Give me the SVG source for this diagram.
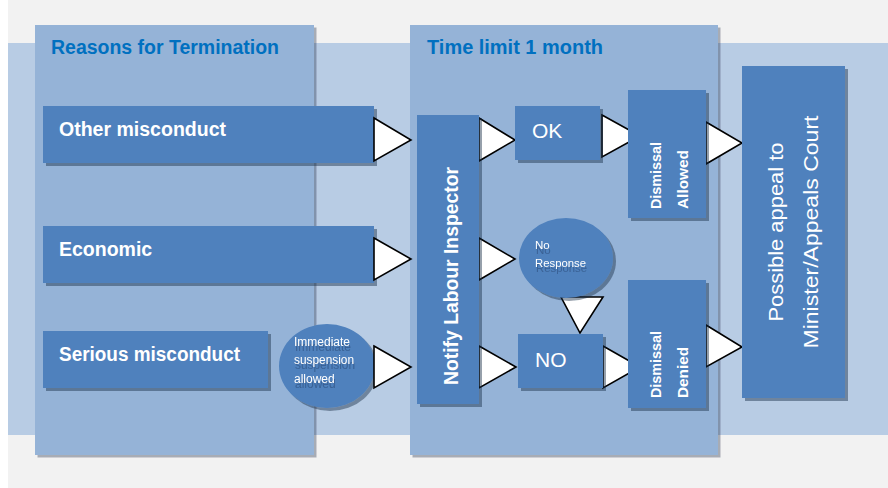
<svg xmlns="http://www.w3.org/2000/svg" width="888" height="488" viewBox="0 0 888 488">
<defs>
<filter id="sh" x="-10%" y="-10%" width="130%" height="130%">
<feDropShadow dx="3" dy="3" stdDeviation="0.7" flood-color="#1f2f45" flood-opacity="0.45"/>
</filter>
<filter id="psh" x="-5%" y="-5%" width="115%" height="115%">
<feDropShadow dx="2.5" dy="2.5" stdDeviation="0.6" flood-color="#1f2f45" flood-opacity="0.35"/>
</filter>
<filter id="tsh" x="-10%" y="-20%" width="130%" height="160%">
<feDropShadow dx="1" dy="5" stdDeviation="0.6" flood-color="#2b4a75" flood-opacity="0.55"/>
</filter>
<style>
.panel{fill:#95b3d7;filter:url(#psh)}
.box{fill:#4f81bd;filter:url(#sh)}
.title{font-family:"Liberation Sans",Arial,sans-serif;font-weight:bold;font-size:19.5px;fill:#0070c0}
.lbl{font-family:"Liberation Sans",Arial,sans-serif;font-weight:bold;font-size:19.5px;fill:#ffffff}
.reg{font-family:"Liberation Sans",Arial,sans-serif;font-size:21px;fill:#ffffff}
.sm{font-family:"Liberation Sans",Arial,sans-serif;font-size:12px;fill:#ffffff;filter:url(#tsh)}
.vb{font-family:"Liberation Sans",Arial,sans-serif;font-weight:bold;font-size:14px;fill:#ffffff}
.tri{fill:#ffffff;stroke:#000000;stroke-width:1.6;stroke-linejoin:miter}
</style>
</defs>
<rect x="0" y="0" width="888" height="488" fill="#ffffff"/>
<rect x="8" y="0" width="880" height="488" fill="#f2f2f2"/>
<rect x="8" y="43" width="880" height="392" fill="#b8cce4"/>

<g id="panel-reasons">
<rect class="panel" x="35" y="25" width="279" height="430"/>
<text class="title" x="51" y="54" textLength="228" lengthAdjust="spacingAndGlyphs">Reasons for Termination</text>
</g>
<g id="panel-time">
<rect class="panel" x="410" y="25" width="308" height="430"/>
<text class="title" x="427" y="54" textLength="176" lengthAdjust="spacingAndGlyphs">Time limit 1 month</text>
</g>

<g id="other-misconduct">
<rect class="box" x="43" y="106" width="331" height="57"/>
<text class="lbl" x="59" y="136" textLength="167" lengthAdjust="spacingAndGlyphs">Other misconduct</text>
</g>
<g id="economic">
<rect class="box" x="43" y="226" width="331" height="57"/>
<text class="lbl" x="59" y="256">Economic</text>
</g>
<g id="serious-misconduct">
<rect class="box" x="43" y="331" width="225" height="57"/>
<text class="lbl" x="59" y="361" textLength="181" lengthAdjust="spacingAndGlyphs">Serious misconduct</text>
</g>
<g id="immediate-suspension">
<ellipse class="box" cx="327" cy="366" rx="48" ry="42"/>
<text class="sm" x="294" y="346">Immediate</text>
<text class="sm" x="294" y="364" textLength="60" lengthAdjust="spacingAndGlyphs">suspension</text>
<text class="sm" x="294" y="383">allowed</text>
</g>

<g id="connectors">
<polygon class="tri" points="374,118 411,140 374,161"/>
<polygon class="tri" points="374,238 411,259 374,280"/>
<polygon class="tri" points="374,346 411,367 374,388"/>
<polygon class="tri" points="479,118 515,140 479,161"/>
<polygon class="tri" points="479,238 515,259 479,280"/>
<polygon class="tri" points="479,346 516,367 479,388"/>
<polygon class="tri" points="561,297 603,297 580,333"/>
<polygon class="tri" points="602,115 640,136 602,157"/>
<polygon class="tri" points="603,346 640,367 603,388"/>
<polygon class="tri" points="706,122 742,143 706,164"/>
<polygon class="tri" points="706,325 742,347 706,367"/>
</g>

<g id="notify">
<rect class="box" x="417" y="115" width="62" height="289"/>
<text class="lbl" transform="translate(458,385) rotate(-90)" x="0" y="0" textLength="218" lengthAdjust="spacingAndGlyphs">Notify Labour Inspector</text>
</g>
<g id="ok">
<rect class="box" x="515" y="106" width="85" height="54"/>
<text class="reg" x="532" y="138">OK</text>
</g>
<g id="no-response">
<ellipse class="box" cx="566" cy="258" rx="47" ry="40"/>
<text class="sm" x="535" y="249" style="font-size:11.5px">No</text>
<text class="sm" x="535" y="267" style="font-size:11.5px" textLength="51" lengthAdjust="spacingAndGlyphs">Response</text>
</g>
<g id="no">
<rect class="box" x="518" y="334" width="85" height="54"/>
<text class="reg" x="535" y="367">NO</text>
</g>
<g id="dismissal-allowed">
<rect class="box" x="628" y="90" width="78" height="128"/>
<text class="vb" transform="translate(661,209) rotate(-90)" textLength="67" lengthAdjust="spacingAndGlyphs">Dismissal</text>
<text class="vb" transform="translate(688,209) rotate(-90)" textLength="59" lengthAdjust="spacingAndGlyphs">Allowed</text>
</g>
<g id="dismissal-denied">
<rect class="box" x="628" y="280" width="78" height="128"/>
<text class="vb" transform="translate(661,398) rotate(-90)" textLength="67" lengthAdjust="spacingAndGlyphs">Dismissal</text>
<text class="vb" transform="translate(688,398) rotate(-90)" textLength="51" lengthAdjust="spacingAndGlyphs">Denied</text>
</g>
<g id="possible-appeal">
<rect class="box" x="742" y="66" width="103" height="332"/>
<text class="reg" text-anchor="middle" transform="translate(783,232) rotate(-90)" textLength="179" lengthAdjust="spacingAndGlyphs">Possible appeal to</text>
<text class="reg" text-anchor="middle" transform="translate(818,232) rotate(-90)" textLength="233" lengthAdjust="spacingAndGlyphs">Minister/Appeals Court</text>
</g>
</svg>
